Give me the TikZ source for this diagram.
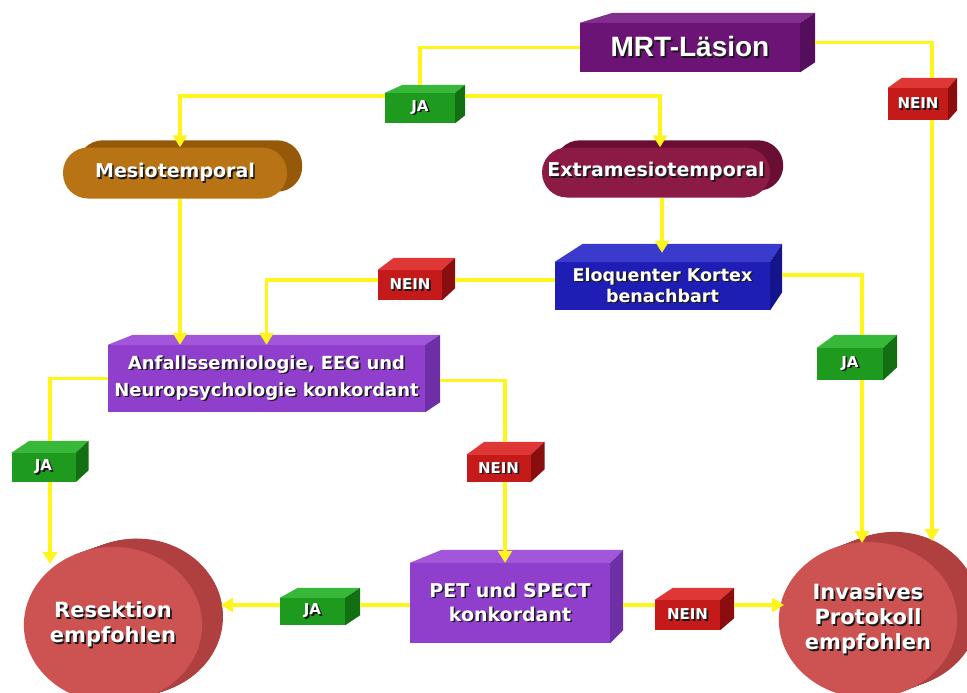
\documentclass[tikz,border=0pt]{standalone}
\usepackage{fontspec}
\setmainfont{DejaVu Sans}
\newfontfamily\arialb{Liberation Sans}
\usetikzlibrary{arrows.meta,shapes.geometric}
\pgfdeclarelayer{faces}
\pgfsetlayers{faces,main}

\definecolor{ylw}{HTML}{FFF51A}
\definecolor{mrtF}{HTML}{6C1475}
\definecolor{mrtT}{HTML}{822E8C}
\definecolor{mrtS}{HTML}{550E5E}
\definecolor{grF}{HTML}{1E9B1E}
\definecolor{grT}{HTML}{38B838}
\definecolor{grS}{HTML}{127012}
\definecolor{rdF}{HTML}{C41A1A}
\definecolor{rdT}{HTML}{DF3636}
\definecolor{rdS}{HTML}{8A0E0E}
\definecolor{mesoF}{HTML}{B87314}
\definecolor{mesoB}{HTML}{96590A}
\definecolor{extF}{HTML}{8B1A45}
\definecolor{extB}{HTML}{6A0F33}
\definecolor{blF}{HTML}{1E1EB4}
\definecolor{blT}{HTML}{3A3ACD}
\definecolor{blS}{HTML}{14148C}
\definecolor{viF}{HTML}{8F3FCB}
\definecolor{viT}{HTML}{A257DA}
\definecolor{viS}{HTML}{6E2EA6}
\definecolor{ciF}{HTML}{CD5353}
\definecolor{ciS}{HTML}{B04040}

\newcommand\sht[1]{\leavevmode\rlap{\kern1.6pt\raisebox{-1.6pt}{\textcolor{black!90}{#1}}}#1}

\newcommand\cubefaces[6]{%
  \begin{pgfonlayer}{faces}
  \fill[#5] (#1.north west) -- ([xshift=#2,yshift=#4]#1.north west) -- ([xshift=#3,yshift=#4]#1.north east) -- (#1.north east) -- cycle;
  \fill[#6] (#1.north east) -- ([xshift=#3,yshift=#4]#1.north east) -- ([xshift=#3,yshift=#4]#1.south east) -- (#1.south east) -- cycle;
  \end{pgfonlayer}}

\tikzset{
  ln/.style={draw=ylw, line width=3.5pt},
  arr/.style={ln, -{Triangle[width=14pt,length=12pt]}},
  cube/.style={inner sep=0pt, text=white, align=center},
  lab/.style={cube, minimum width=64pt, minimum height=29pt, font=\bfseries\fontsize{15}{17}\selectfont},
  pill/.style={cube, rounded corners=25pt, font=\bfseries\fontsize{19}{22}\selectfont},
  disc/.style={cube, ellipse, fill=ciF, font=\bfseries\fontsize{21}{25}\selectfont},
}

\begin{document}
\begin{tikzpicture}[x=1pt,y=-1pt]
\begin{pgfonlayer}{faces}
\fill[white] (0,0) rectangle (967,693);
\end{pgfonlayer}
\useasboundingbox (0,0) rectangle (967,693);

% main boxes
\node[cube, fill=mrtF, minimum width=220pt, minimum height=49pt, font=\arialb\bfseries\fontsize{28}{30}\selectfont] (mrt) at (690,47.5) {\sht{MRT-Läsion}};
\cubefaces{mrt}{33}{15}{10}{mrtT}{mrtS}

\node[pill, fill=mesoF, minimum width=224pt, minimum height=51pt] (meso) at (175,173) {\sht{Mesiotemporal}};
\begin{pgfonlayer}{faces}
\fill[mesoB, rounded corners=25pt] ([xshift=15,yshift=7]meso.south west) rectangle ([xshift=15,yshift=7]meso.north east);
\end{pgfonlayer}

\node[pill, fill=extF, minimum width=228pt, minimum height=50pt] (extra) at (656,172.5) {\sht{Extramesiotemporal}};
\begin{pgfonlayer}{faces}
\fill[extB, rounded corners=25pt] ([xshift=13,yshift=7]extra.south west) rectangle ([xshift=13,yshift=7]extra.north east);
\end{pgfonlayer}

\node[cube, fill=blF, minimum width=215pt, minimum height=48pt, font=\bfseries\fontsize{17.5}{21}\selectfont] (eloq) at (662.5,286) {\sht{Eloquenter Kortex}\\\sht{benachbart}};
\cubefaces{eloq}{28}{12}{18}{blT}{blS}

\node[cube, fill=viF, minimum width=317pt, minimum height=67pt, font=\bfseries\fontsize{18}{27}\selectfont] (anf) at (266.5,378.5) {\raisebox{-4pt}{\sht{Anfallssemiologie, EEG und}}\\\raisebox{-4pt}{\sht{Neuropsychologie konkordant}}};
\cubefaces{anf}{25}{15}{10}{viT}{viS}

\node[cube, fill=viF, minimum width=200pt, minimum height=80pt, font=\bfseries\fontsize{19}{24}\selectfont] (pet) at (510,603) {\sht{PET und SPECT}\\\sht{konkordant}};
\cubefaces{pet}{32}{13}{13}{viT}{viS}

% end discs
\node[disc, minimum width=172pt, minimum height=156pt] (res) at (113,625) {\sht{Resektion}\\\sht{empfohlen}};
\node[disc, minimum width=170pt, minimum height=156pt] (inv) at (868,620) {\sht{Invasives}\\\sht{Protokoll}\\\sht{empfohlen}};
\begin{pgfonlayer}{faces}
\foreach \i in {24,...,1}{
  \fill[ciS] ([xshift={\i*1.0},yshift={\i*0.35}]res.center) ellipse [x radius=86, y radius=78];
  \fill[ciS] ([xshift={\i*1.1},yshift={\i*0.42}]inv.center) ellipse [x radius=85, y radius=78];
}
\end{pgfonlayer}

% yes / no labels
\node[lab, fill=grF, minimum width=70pt, minimum height=30pt] (ja1) at (420,108) {\sht{JA}};
\cubefaces{ja1}{18}{10}{8}{grT}{grS}
\node[lab, fill=rdF, minimum width=60pt, minimum height=32pt] (nein1) at (918,104) {\sht{NEIN}};
\cubefaces{nein1}{14}{9}{10}{rdT}{rdS}
\node[lab, fill=rdF, minimum width=64pt, minimum height=30pt] (nein2) at (410,285) {\sht{NEIN}};
\cubefaces{nein2}{16}{13}{12}{rdT}{rdS}
\node[lab, fill=grF, minimum width=66pt, minimum height=32pt] (jar) at (850,364) {\sht{JA}};
\cubefaces{jar}{18}{14}{13}{grT}{grS}
\node[lab, fill=grF, minimum width=64pt, minimum height=29pt] (jal) at (43.5,467.5) {\sht{JA}};
\cubefaces{jal}{18}{13}{12}{grT}{grS}
\node[lab, fill=rdF, minimum width=64pt, minimum height=27pt] (nein3) at (498.5,468.5) {\sht{NEIN}};
\cubefaces{nein3}{18}{14}{13}{rdT}{rdS}
\node[lab, fill=grF, minimum width=65pt, minimum height=27pt] (jab) at (312.5,611.5) {\sht{JA}};
\cubefaces{jab}{18}{15}{10}{grT}{grS}
\node[lab, fill=rdF, minimum width=65pt, minimum height=30pt] (neinb) at (687.5,615) {\sht{NEIN}};
\cubefaces{neinb}{18}{14}{12}{rdT}{rdS}

% connector end points
\coordinate (invT) at (932,541);
\coordinate (invT2) at (862,543);
\coordinate (invW) at (784,605);
\coordinate (resN) at (50,564);
\coordinate (resE) at (221,605);
\coordinate (ms) at ([xshift=5]meso.south);
\coordinate (es) at ([xshift=6]extra.south);
\coordinate (eloqtop) at ([yshift=9]eloq.north);
\coordinate (ns) at ([xshift=6.5]nein3.south);

% connectors
\draw[ln] (mrt.west) -| ([yshift=8]ja1.north);
\draw[arr] ([yshift=12]ja1.west) -| ([xshift=5]meso.north);
\draw[arr] ([xshift=10,yshift=12]ja1.east) -| ([xshift=4]extra.north);
\draw[ln] ([xshift=15,yshift=5]mrt.east) -| ([xshift=14,yshift=10]nein1.north);
\draw[arr] ([xshift=14]nein1.south) -- (invT);
\draw[arr] (es) -- (es |- eloqtop);
\draw[ln] ([yshift=6]eloq.west) -- ([xshift=13,yshift=5]nein2.east);
\draw[arr] ([yshift=5]nein2.west) -| (anf.north);
\draw[arr] (ms) -- (ms |- anf.north);
\draw[ln] ([xshift=12,yshift=11]eloq.east) -| ([xshift=12,yshift=13]jar.north);
\draw[arr] ([xshift=12]jar.south) -- (invT2);
\draw[ln] (anf.west) -| ([xshift=6.5,yshift=12]jal.north);
\draw[arr] ([xshift=6.5]jal.south) -- (resN);
\draw[ln] ([xshift=15,yshift=-2]anf.east) -| ([xshift=6.5,yshift=13]nein3.north);
\draw[arr] (ns) -- (ns |- pet.north);
\draw[ln] ([yshift=-2]pet.west) -- ([xshift=15,yshift=6.5]jab.east);
\draw[arr] ([yshift=6.5]jab.west) -- (resE);
\draw[ln] ([xshift=13,yshift=-2]pet.east) -- ([yshift=10]neinb.west);
\draw[arr] ([xshift=14,yshift=10]neinb.east) -- (invW);
\end{tikzpicture}
\end{document}
